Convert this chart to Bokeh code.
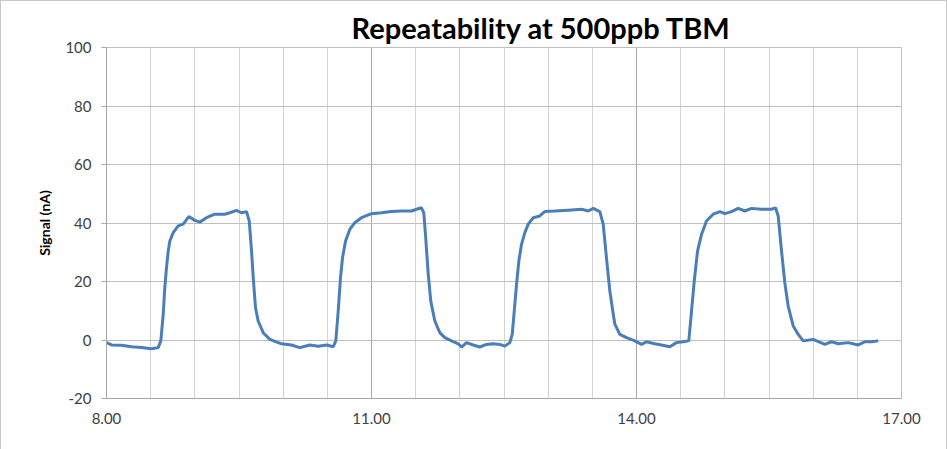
from bokeh.plotting import figure
from bokeh.models import FixedTicker, Range1d, CustomJSTickFormatter
from bokeh.embed import file_html
from bokeh.resources import INLINE

title_text = "Repeatability at 500ppb TBM"
y_label = "Signal (nA)"
x_major_ticks = [8, 11, 14, 17]
x_minor_ticks = [8.5, 9, 9.5, 10, 10.5, 11.5, 12, 12.5, 13, 13.5,
                 14.5, 15, 15.5, 16, 16.5]
y_ticks = [-20, 0, 20, 40, 60, 80, 100]

time_h = [
    8.000, 8.057, 8.170, 8.283, 8.396, 8.509, 8.585, 8.615, 8.642, 8.660,
    8.679, 8.699, 8.717, 8.755, 8.812, 8.868, 8.932, 9.000, 9.056, 9.132,
    9.226, 9.339, 9.396, 9.472, 9.528, 9.585, 9.616, 9.642, 9.661, 9.687,
    9.717, 9.774, 9.849, 9.944, 9.981, 10.094, 10.188, 10.302, 10.397, 10.491,
    10.567, 10.596, 10.623, 10.649, 10.672, 10.706, 10.754, 10.811, 10.887, 11.000,
    11.113, 11.227, 11.340, 11.453, 11.510, 11.566, 11.592, 11.611, 11.642, 11.671,
    11.717, 11.773, 11.830, 11.906, 11.982, 12.019, 12.076, 12.151, 12.226, 12.302,
    12.378, 12.453, 12.509, 12.566, 12.593, 12.616, 12.642, 12.668, 12.698, 12.736,
    12.774, 12.831, 12.905, 12.962, 13.075, 13.227, 13.378, 13.453, 13.510, 13.585,
    13.623, 13.660, 13.698, 13.736, 13.755, 13.811, 13.887, 13.981, 14.057, 14.113,
    14.207, 14.283, 14.377, 14.453, 14.529, 14.592, 14.623, 14.654, 14.691, 14.736,
    14.792, 14.868, 14.944, 15.000, 15.075, 15.151, 15.226, 15.302, 15.415, 15.528,
    15.574, 15.604, 15.642, 15.679, 15.717, 15.774, 15.831, 15.887, 16.000, 16.132,
    16.208, 16.284, 16.397, 16.510, 16.585, 16.661, 16.736,
]
signal_na = [
    -0.9, -1.7, -1.8, -2.3, -2.6, -3.0, -2.6, -0.3, 8.8, 17.9,
    24.7, 30.4, 33.8, 36.7, 39.0, 39.6, 42.2, 40.9, 40.3, 41.8,
    43.0, 43.0, 43.5, 44.3, 43.5, 43.9, 40.7, 30.4, 21.3, 11.0,
    6.5, 2.5, 0.2, -0.9, -1.3, -1.7, -2.6, -1.7, -2.1, -1.7,
    -2.3, -0.3, 9.9, 21.3, 28.1, 33.8, 37.8, 40.1, 41.8, 43.2,
    43.5, 43.9, 44.1, 44.1, 44.7, 45.2, 43.5, 36.1, 22.5, 13.3,
    6.5, 2.5, 0.8, -0.3, -1.3, -2.4, -0.9, -1.7, -2.4, -1.5,
    -1.3, -1.5, -2.1, -0.9, 1.9, 9.9, 19.0, 27.0, 32.7, 36.7,
    39.6, 41.8, 42.4, 43.9, 44.1, 44.4, 44.7, 44.1, 45.0, 43.9,
    39.6, 28.1, 16.8, 9.0, 5.4, 1.9, 0.8, -0.3, -1.5, -0.6,
    -1.3, -1.7, -2.3, -0.9, -0.6, -0.3, 9.9, 20.2, 30.4, 36.1,
    40.7, 43.0, 43.9, 43.2, 43.9, 45.0, 44.1, 45.0, 44.7, 44.7,
    45.2, 42.4, 30.4, 19.6, 11.6, 4.8, 1.9, -0.3, 0.2, -1.5,
    -0.6, -1.3, -0.9, -1.7, -0.6, -0.6, -0.3,
]

p = figure(
    frame_width=795, frame_height=351,
    min_border_left=105, min_border_right=45, min_border_top=46, min_border_bottom=51,
    x_range=Range1d(8, 17), y_range=Range1d(-20, 100),
    output_backend="svg", toolbar_location=None, title=title_text,
)
p.styles = {"border": "1px solid #c8c8c8"}

p.title.text_font = "Lato"
p.title.text_font_size = "29px"
p.title.text_font_style = "bold"
p.title.text_color = "#000000"
p.title.align = "left"
p.title.offset = 245
p.title.standoff = 6

p.outline_line_color = "#bfbfbf"
p.outline_line_width = 1

p.xaxis.ticker = FixedTicker(ticks=x_major_ticks, minor_ticks=x_minor_ticks)
p.xaxis.formatter = CustomJSTickFormatter(code="return tick.toFixed(2);")
p.yaxis.ticker = FixedTicker(ticks=y_ticks)
p.yaxis.formatter = CustomJSTickFormatter(code="return String(tick);")

for ax in (p.xaxis[0], p.yaxis[0]):
    ax.axis_line_color = "#a6a6a6"
    ax.major_label_text_font = "Lato"
    ax.major_label_text_font_size = "15px"
    ax.major_label_text_color = "#404040"
    ax.minor_tick_line_color = None

p.xaxis.major_tick_line_color = None
p.xaxis.major_label_standoff = 8
p.yaxis.major_tick_line_color = "#a6a6a6"
p.yaxis.major_tick_out = 5
p.yaxis.major_tick_in = 0
p.yaxis.major_label_standoff = 10

p.yaxis.axis_label = y_label
p.yaxis.axis_label_text_font = "Lato"
p.yaxis.axis_label_text_font_size = "14px"
p.yaxis.axis_label_text_font_style = "bold"
p.yaxis.axis_label_text_color = "#000000"
p.yaxis.axis_label_standoff = 9

p.xgrid.grid_line_color = "#a8a8a8"
p.xgrid.minor_grid_line_color = "#d4d4d4"
p.ygrid.grid_line_color = "#bfbfbf"

p.line(time_h, signal_na, line_color="#4a7ebb", line_width=3)

open("out.html", "w").write(file_html(p, INLINE))
